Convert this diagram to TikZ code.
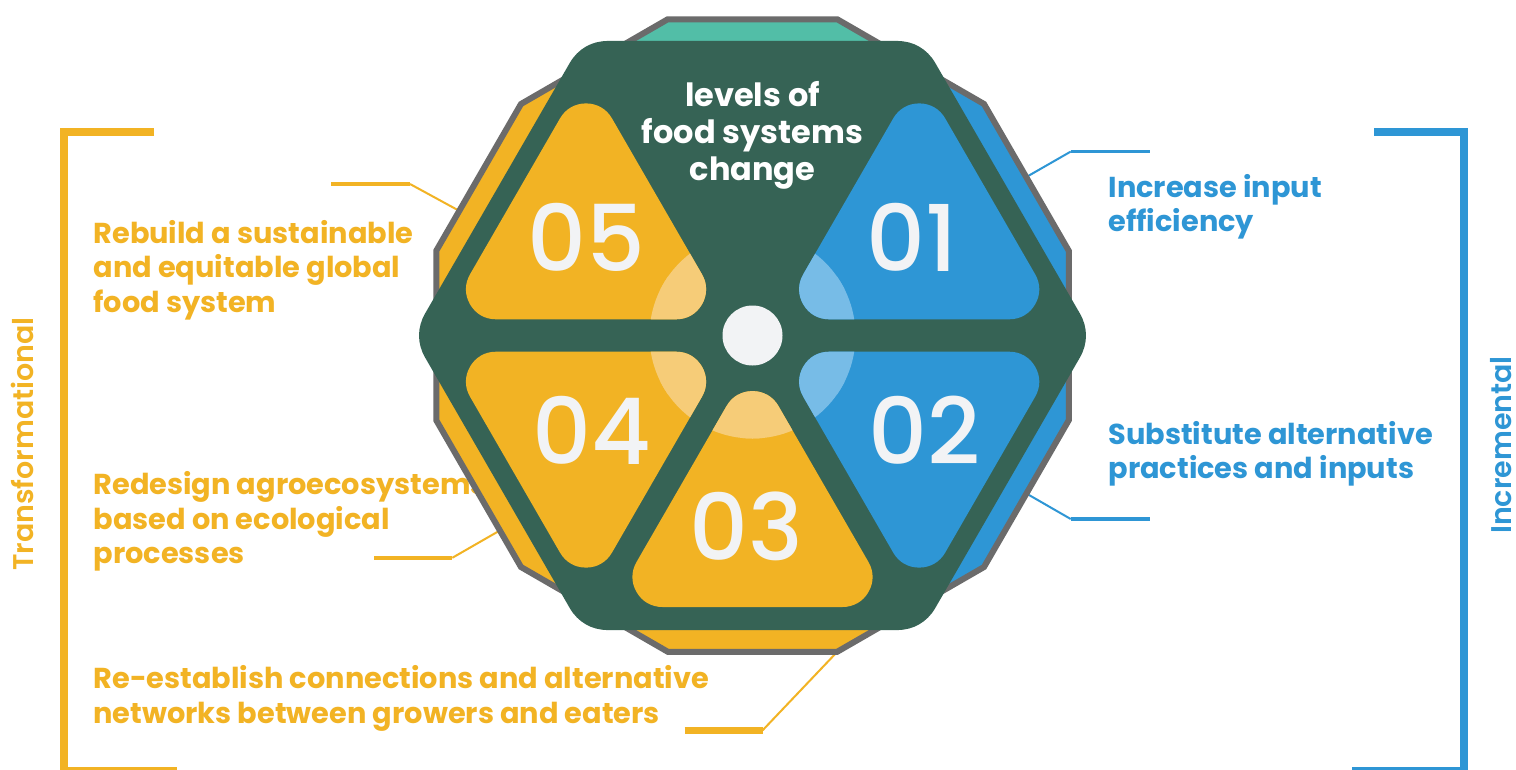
\documentclass[tikz,border=0pt]{standalone}
\usepackage{fontspec}
\newfontfamily\popb{Poppins Bold}
\newfontfamily\popsb{Poppins SemiBold}
\newfontfamily\popm{Poppins Medium}
\usetikzlibrary{calc}
\definecolor{cyellow}{HTML}{F2B324}
\definecolor{cblue}{HTML}{2E96D5}
\definecolor{cteal}{HTML}{52BEA7}
\definecolor{cdark}{HTML}{366355}
\definecolor{cgrey}{HTML}{6B6B6B}
\definecolor{cwhite}{HTML}{F2F3F5}
\definecolor{lyellow}{HTML}{F6CC78}
\definecolor{lblue}{HTML}{77BCE7}
\newcommand\rtri[4]{%
  \filldraw[#3, line width=60, line join=round] ($(#1)+(0,-103.9*#2)$) -- ($(#1)+(90,52*#2)$) -- ($(#1)+(-90,52*#2)$) -- cycle;
  \begin{scope}
    \clip (C) circle (103);
    \filldraw[#4, line width=60, line join=round] ($(#1)+(0,-103.9*#2)$) -- ($(#1)+(90,52*#2)$) -- ($(#1)+(-90,52*#2)$) -- cycle;
  \end{scope}}
\begin{document}
\begin{tikzpicture}[x=1pt,y=-1pt,
  sidetext/.style={font=\popb\fontsize{28.8}{34.5}\selectfont, align=left, anchor=base west, inner sep=0pt},
  ytext/.style={sidetext, text=cyellow},
  btext/.style={sidetext, text=cblue},
  digit/.style={font=\popm\fontsize{92}{92}\selectfont, text=cwhite, anchor=base, inner sep=0pt},
  sidelabel/.style={font=\popsb\fontsize{28.5}{28.5}\selectfont, rotate=90, inner sep=0pt},
  leadthick/.style={line width=3.5},
  leadthin/.style={line width=2},
  bracket/.style={line width=8}]
\useasboundingbox (0,0) rectangle (1516,769);
\fill[white] (0,0) rectangle (1516,769);

% side texts (under the hexagon); base anchor = baseline of last line
\node[ytext] (t5) at (93.3,312) {Rebuild a sustainable\\and equitable global\\food system};
\node[ytext] (t4) at (93.3,563.6) {Redesign agroecosystems\\based on ecological\\processes};
\node[ytext] (t3) at (93.3,723.2) {Re-establish connections and alternative\\networks between growers and eaters};
\node[btext] (t1) at (1108.3,231.8) {Increase input\\efficiency};
\node[btext] (t2) at (1108.3,478.5) {Substitute alternative\\practices and inputs};

% brackets and side labels
\draw[bracket, cyellow] (154,132.2) -- (64.2,132.2) -- (64.2,771) -- (176.7,771);
\draw[bracket, cblue] (1374.3,132.2) -- (1464.2,132.2) -- (1464.2,771) -- (1351.7,771);
\node[sidelabel, text=cyellow] (lt) at (22.5,444) {Transformational};
\node[sidelabel, text=cblue] (li) at (1501.5,445) {Incremental};

% leader lines
\coordinate (k5a) at (331,184); \coordinate (k5b) at (410,184); \coordinate (k5c) at (459,210.7);
\coordinate (k4a) at (374,557.8); \coordinate (k4b) at (452.3,557.8); \coordinate (k4c) at (500,530.4);
\coordinate (k3a) at (684.5,730.3); \coordinate (k3b) at (762.6,730.3); \coordinate (k3c) at (838,651);
\coordinate (k1a) at (1149.7,151.6); \coordinate (k1b) at (1070.7,151.6); \coordinate (k1c) at (1028.3,175.9);
\coordinate (k2a) at (1149.7,519); \coordinate (k2b) at (1070.7,519); \coordinate (k2c) at (1028.3,494.6);
\draw[cyellow, leadthick] (k5a) -- (k5b); \draw[cyellow, leadthin] (k5b) -- (k5c);
\draw[cyellow, leadthick] (k4a) -- (k4b); \draw[cyellow, leadthin] (k4b) -- (k4c);
\draw[cyellow, line width=7] (k3a) -- (k3b); \draw[cyellow, leadthin] (k3b) -- (k3c);
\draw[cblue, leadthick] (k1a) -- (k1b); \draw[cblue, leadthin] (k1b) -- (k1c);
\draw[cblue, leadthick] (k2a) -- (k2b); \draw[cblue, leadthin] (k2b) -- (k2c);

% outer dodecagon
\coordinate (C) at (752.5,335.5);
\begin{scope}
  \clip ($(C)+(15:327.4)$) -- ($(C)+(45:327.4)$) -- ($(C)+(75:327.4)$) -- ($(C)+(105:327.4)$) -- ($(C)+(135:327.4)$) -- ($(C)+(165:327.4)$) -- ($(C)+(195:327.4)$) -- ($(C)+(225:327.4)$) -- ($(C)+(255:327.4)$) -- ($(C)+(285:327.4)$) -- ($(C)+(315:327.4)$) -- ($(C)+(345:327.4)$) -- cycle;
  \fill[cyellow] ($(C)+(-400,-400)$) rectangle ($(C)+(400,400)$);
  \fill[cblue] (C) -- ($(C)+(60:800)$) -- ($(C)+(0:900)$) -- ($(C)+(-60:800)$) -- cycle;
  \fill[cteal] (C) -- ($(C)+(-60:800)$) -- ($(C)+(-90:900)$) -- ($(C)+(-120:800)$) -- cycle;
\end{scope}
\draw[cgrey, line width=6] ($(C)+(15:327.4)$) -- ($(C)+(45:327.4)$) -- ($(C)+(75:327.4)$) -- ($(C)+(105:327.4)$) -- ($(C)+(135:327.4)$) -- ($(C)+(165:327.4)$) -- ($(C)+(195:327.4)$) -- ($(C)+(225:327.4)$) -- ($(C)+(255:327.4)$) -- ($(C)+(285:327.4)$) -- ($(C)+(315:327.4)$) -- ($(C)+(345:327.4)$) -- cycle;

% dark rounded hexagon
\filldraw[cdark, line width=88, line join=round] ($(C)+(0:289.3)$) -- ($(C)+(60:289.3)$) -- ($(C)+(120:289.3)$) -- ($(C)+(180:289.3)$) -- ($(C)+(240:289.3)$) -- ($(C)+(300:289.3)$) -- cycle;

% triangles
\coordinate (G5) at (586,237.3);
\coordinate (G1) at (919.2,237.3);
\coordinate (G4) at (586,433.7);
\coordinate (G2) at (919.2,433.7);
\coordinate (G3) at (752.5,525);
\rtri{G5}{1}{cyellow}{lyellow}
\rtri{G1}{1}{cblue}{lblue}
\rtri{G4}{-1}{cyellow}{lyellow}
\rtri{G2}{-1}{cblue}{lblue}
\rtri{G3}{1}{cyellow}{lyellow}
\fill[cwhite] (C) circle (30);

% numbers
\node[digit] (n05) at (586,271.7) {05};
\node[digit] (n01) at (912.2,271) {01};
\node[digit] (n04) at (591.7,464) {04};
\node[digit] (n02) at (924.5,464) {02};
\node[digit] (n03) at (746.8,560) {03};

% title
\node[font=\popb\fontsize{32}{37}\selectfont, text=white, align=center, anchor=base, inner sep=0pt] (title) at (752.5,180.7) {levels of\\food systems\\change};
\end{tikzpicture}
\end{document}
